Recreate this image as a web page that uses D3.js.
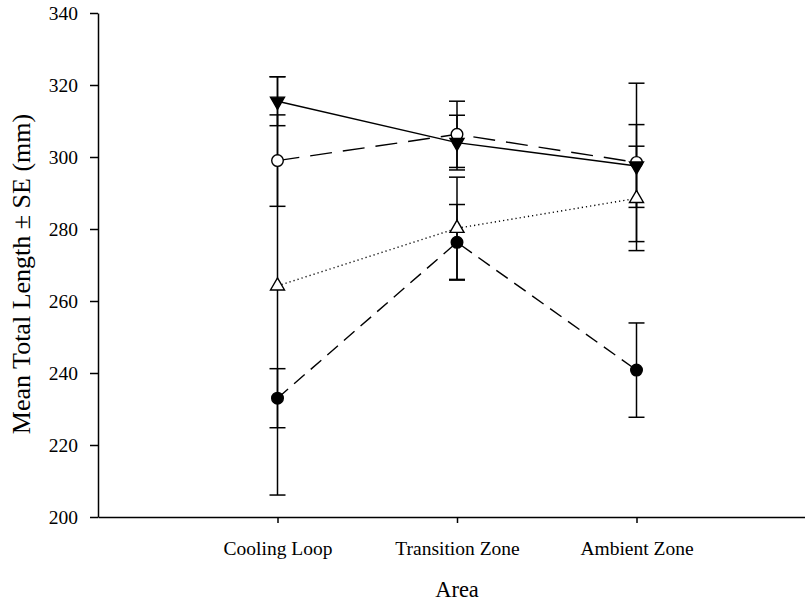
<!DOCTYPE html>
<html>
<head>
<meta charset="utf-8">
<script src="https://cdn.jsdelivr.net/npm/d3@7"></script>
<style>
  html, body { margin: 0; padding: 0; background: #fff; }
  svg { display: block; }
  text { font-family: "Liberation Serif", "Times New Roman", serif; fill: #000; }
</style>
</head>
<body>
<svg id="chart" width="805" height="603"></svg>
<script>
// Study areas along the x axis
const areas = ["Cooling Loop", "Transition Zone", "Ambient Zone"];

// Mean total length (mm) and standard error for each group
const filledCircleMean = [233.0, 276.3, 240.8];
const filledCircleSE   = [8.2, 10.5, 13.1];
const openCircleMean   = [299.0, 306.3, 298.5];
const openCircleSE     = [12.7, 9.2, 22.0];
const downTriMean      = [315.5, 304.0, 297.5];
const downTriSE        = [6.8, 7.6, 11.5];
const upTriMean        = [264.2, 280.2, 288.5];
const upTriSE          = [58.1, 14.2, 14.5];

const yTicks = [200, 220, 240, 260, 280, 300, 320, 340];

const series = [
  { mean: filledCircleMean, se: filledCircleSE, symbol: "circle",   fill: "#000", dash: "14,8" },
  { mean: openCircleMean,   se: openCircleSE,   symbol: "circle",   fill: "#fff", dash: "22,11" },
  { mean: upTriMean,        se: upTriSE,        symbol: "triUp",    fill: "#fff", dash: "1.2,3" },
  { mean: downTriMean,      se: downTriSE,      symbol: "triDown",  fill: "#000", dash: null }
];

const svg = d3.select("#chart");
const mLeft = 98, mTop = 13, mBottom = 517, mRight = 816;

const x = d3.scaleLinear().domain([0, 4]).range([mLeft, mRight]);
const y = d3.scaleLinear().domain([200, 340]).range([mBottom, mTop]);

// Y axis
const yAxis = svg.append("g")
  .attr("transform", `translate(${mLeft},0)`)
  .call(d3.axisLeft(y).tickValues(yTicks).tickSize(8).tickPadding(12).tickSizeOuter(0));
yAxis.select(".domain").attr("stroke", "#000").attr("stroke-width", 1.5);
yAxis.selectAll(".tick line").attr("stroke-width", 1.5);
yAxis.selectAll(".tick text")
  .style("font-family", "Liberation Serif").style("font-size", "19.5px");

// X axis
const xAxis = svg.append("g")
  .attr("transform", `translate(0,${mBottom})`)
  .call(d3.axisBottom(x).tickValues([1, 2, 3]).tickFormat(d => areas[d - 1])
        .tickSize(6).tickPadding(18).tickSizeOuter(0));
xAxis.select(".domain").attr("stroke", "#000").attr("stroke-width", 1.5);
xAxis.selectAll(".tick line").attr("stroke-width", 1.5);
xAxis.selectAll(".tick text")
  .style("font-family", "Liberation Serif").style("font-size", "19.5px");

// Axis titles
svg.append("text")
  .attr("x", x(2)).attr("y", 597)
  .attr("text-anchor", "middle")
  .style("font-size", "22.5px")
  .text("Area");

svg.append("text")
  .attr("transform", `translate(30,274) rotate(-90)`)
  .attr("text-anchor", "middle")
  .style("font-size", "26px")
  .text("Mean Total Length ± SE (mm)");

const plot = svg.append("g");
const cap = 8;

// Error bars
series.forEach(s => {
  s.mean.forEach((m, i) => {
    const cx = x(i + 1);
    const g = plot.append("g").attr("stroke", "#000").attr("stroke-width", 1.5);
    g.append("line").attr("x1", cx).attr("x2", cx).attr("y1", y(m - s.se[i])).attr("y2", y(m + s.se[i]));
    g.append("line").attr("x1", cx - cap).attr("x2", cx + cap).attr("y1", y(m + s.se[i])).attr("y2", y(m + s.se[i]));
    g.append("line").attr("x1", cx - cap).attr("x2", cx + cap).attr("y1", y(m - s.se[i])).attr("y2", y(m - s.se[i]));
  });
});

// Connecting lines
const line = d3.line().x((d, i) => x(i + 1)).y(d => y(d));
series.forEach(s => {
  plot.append("path")
    .attr("d", line(s.mean))
    .attr("fill", "none")
    .attr("stroke", "#000")
    .attr("stroke-width", 1.4)
    .attr("stroke-dasharray", s.dash);
});

// Markers
const triUp = d3.symbol().type(d3.symbolTriangle).size(85)();
series.forEach(s => {
  s.mean.forEach((m, i) => {
    const cx = x(i + 1), cy = y(m);
    if (s.symbol === "circle") {
      plot.append("circle").attr("cx", cx).attr("cy", cy).attr("r", 5.8)
        .attr("fill", s.fill).attr("stroke", "#000").attr("stroke-width", 1.4);
    } else {
      const rot = s.symbol === "triDown" ? 180 : 0;
      plot.append("path").attr("d", triUp)
        .attr("transform", `translate(${cx},${cy}) rotate(${rot})`)
        .attr("fill", s.fill).attr("stroke", "#000").attr("stroke-width", 1.4);
    }
  });
});
</script>
</body>
</html>
